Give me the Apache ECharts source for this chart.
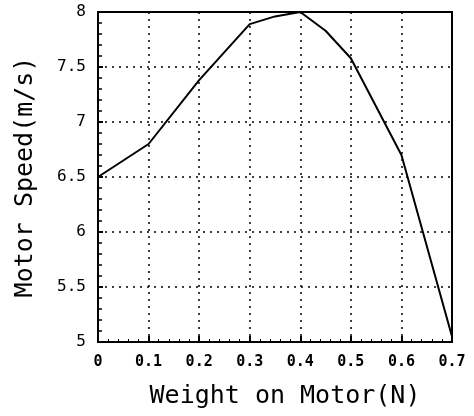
<!DOCTYPE html>
<html>
<head>
<meta charset="utf-8">
<script src="https://cdn.jsdelivr.net/npm/echarts@6/dist/echarts.min.js"></script>
<style>html,body{margin:0;padding:0;background:#fff}#c{width:474px;height:416px}</style>
</head>
<body>
<div id="c"></div>
<script>
var weights = [0, 0.1, 0.2, 0.3, 0.35, 0.4, 0.45, 0.5, 0.6, 0.7];
var speeds = [6.5, 6.8, 7.38, 7.89, 7.96, 8.0, 7.83, 7.58, 6.7, 5.05];
var xTitle = 'Weight on Motor(N)';
var yTitle = 'Motor Speed(m/s)';

var chart = echarts.init(document.getElementById('c'), null, {renderer: 'canvas'});
var data = weights.map(function (w, i) { return [w, speeds[i]]; });
var mono = 'DejaVu Sans Mono';
chart.setOption({
  animation: false,
  backgroundColor: '#fff',
  grid: {left: 98, right: 22, top: 12, bottom: 74, show: true, borderColor: '#000', borderWidth: 2, backgroundColor: 'transparent'},
  xAxis: {
    type: 'value', min: 0, max: 0.7, interval: 0.1,
    name: xTitle, nameLocation: 'middle', nameGap: 42,
    nameTextStyle: {fontFamily: mono, fontSize: 25, color: '#000', padding: [0, 0, 0, 20]},
    axisLine: {show: true, lineStyle: {color: '#000', width: 2}},
    axisTick: {show: true, inside: true, length: 6, lineStyle: {color: '#000', width: 2}},
    minorTick: {show: true, splitNumber: 5, length: 3, lineStyle: {color: '#000', width: 1}},
    axisLabel: {fontFamily: mono, fontWeight: 'bold', fontSize: 15, color: '#000', margin: 13},
    splitLine: {show: true, lineStyle: {color: '#000', width: 1.5, type: [2, 5]}}
  },
  yAxis: {
    type: 'value', min: 5, max: 8, interval: 0.5,
    name: yTitle, nameLocation: 'middle', nameGap: 60,
    nameTextStyle: {fontFamily: mono, fontSize: 25, color: '#000'},
    axisLine: {show: true, lineStyle: {color: '#000', width: 2}},
    axisTick: {show: true, inside: true, length: 5, lineStyle: {color: '#000', width: 2}},
    minorTick: {show: true, splitNumber: 5, length: 4, lineStyle: {color: '#000', width: 1.5}},
    axisLabel: {fontFamily: mono, fontSize: 16, color: '#000', margin: 12},
    splitLine: {show: true, lineStyle: {color: '#000', width: 1.5, type: [2, 5]}}
  },
  series: [{
    type: 'line', data: data, showSymbol: false, symbol: 'none',
    lineStyle: {color: '#000', width: 2}
  }]
});
</script>
</body>
</html>
